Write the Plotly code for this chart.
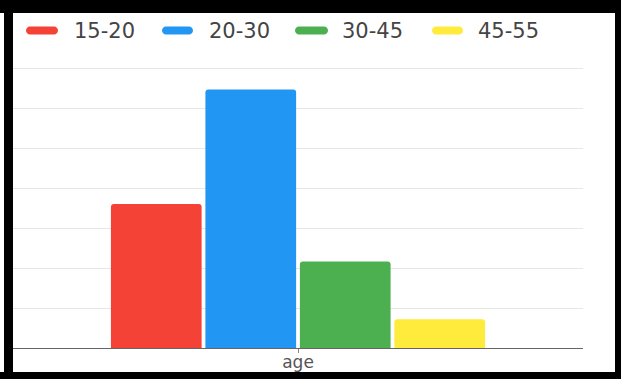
import plotly.graph_objects as go

# data
categories = ["age"]
groups = ["15-20", "20-30", "30-45", "45-55"]
values = [18.0, 32.3, 10.8, 3.6]
colors = ["#F44336", "#2196F3", "#4CAF50", "#FFEB3B"]

W_PX, H_PX = 621, 379
# plot area in pixels
L, R, T, B = 13, 583, 66, 348
PW, PH = R - L, B - T


def px(x):
    return (x - L) / PW


def py(y):
    return (B - y) / PH


def pill_path(x0, x1, yc, h):
    r = h / 2
    k = 0.5523 * r
    pts = [
        f"M{px(x0 + r)},{py(yc - r)}",
        f"L{px(x1 - r)},{py(yc - r)}",
        f"C{px(x1 - r + k)},{py(yc - r)} {px(x1)},{py(yc - k)} {px(x1)},{py(yc)}",
        f"C{px(x1)},{py(yc + k)} {px(x1 - r + k)},{py(yc + r)} {px(x1 - r)},{py(yc + r)}",
        f"L{px(x0 + r)},{py(yc + r)}",
        f"C{px(x0 + r - k)},{py(yc + r)} {px(x0)},{py(yc + k)} {px(x0)},{py(yc)}",
        f"C{px(x0)},{py(yc - k)} {px(x0 + r - k)},{py(yc - r)} {px(x0 + r)},{py(yc - r)}",
        "Z",
    ]
    return " ".join(pts)


fig = go.Figure()
for name, val, col in zip(groups, values, colors):
    fig.add_trace(go.Bar(
        x=categories, y=[val], name=name,
        marker=dict(color=col, line=dict(width=0)),
        showlegend=False, hoverinfo="skip",
    ))

shapes = []
annotations = []

# legend row: colour pill + label
pill_x = [(26, 58), (162, 193), (295, 328), (432, 463)]
text_x = [72, 207, 340, 476]
for (a, b), tx, name, col in zip(pill_x, text_x, groups, colors):
    shapes.append(dict(type="path", xref="paper", yref="paper",
                       path=pill_path(a, b, 30.5, 8),
                       fillcolor=col, line=dict(width=0), layer="above"))
    annotations.append(dict(x=px(tx), y=py(31), xref="paper", yref="paper",
                            text=name, showarrow=False, xanchor="left",
                            yanchor="middle",
                            font=dict(family="DejaVu Sans", size=21, color="#444444")))

# black frame around the chart
frame = [(0, 0, W_PX, 13), (4, 0, 13, H_PX), (615, 0, W_PX, H_PX), (0, 372, W_PX, H_PX)]
for x0, y0, x1, y1 in frame:
    shapes.append(dict(type="rect", xref="paper", yref="paper",
                       x0=px(x0), x1=px(x1), y0=py(y0), y1=py(y1),
                       fillcolor="black", line=dict(width=0), layer="above"))

fig.update_layout(
    width=W_PX, height=H_PX,
    margin=dict(l=L, r=W_PX - R, t=T, b=H_PX - B, pad=0, autoexpand=False),
    paper_bgcolor="white", plot_bgcolor="white",
    barmode="group", bargap=0.337, bargroupgap=0.04,
    barcornerradius=3,
    shapes=shapes, annotations=annotations,
    xaxis=dict(
        automargin=False,
        showline=True, linecolor="#666666", linewidth=1,
        ticks="outside", ticklen=4, tickcolor="#888888",
        ticklabelstandoff=-5,
        tickfont=dict(family="DejaVu Sans", size=17, color="#555555"),
        showgrid=False,
    ),
    yaxis=dict(
        automargin=False,
        range=[0, 35.25], dtick=5, showticklabels=False,
        gridcolor="#e6e6e6", gridwidth=1, zeroline=False,
        fixedrange=True,
    ),
)

fig.write_html("out.html")
